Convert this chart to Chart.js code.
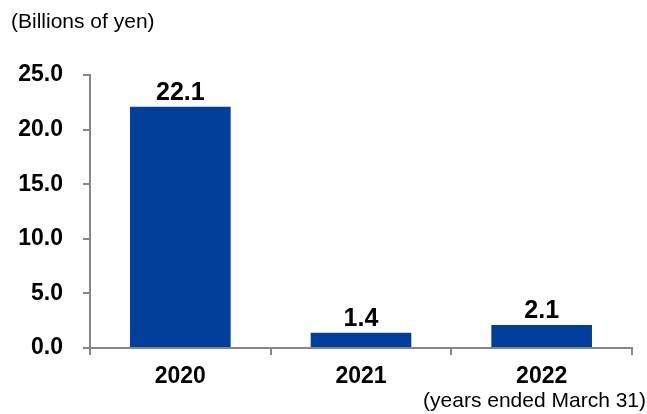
<!DOCTYPE html>
<html>
<head>
<meta charset="utf-8">
<script src="https://cdn.jsdelivr.net/npm/chart.js@4/dist/chart.umd.min.js"></script>
<style>
  html, body { margin: 0; padding: 0; background: #fff; }
  #wrap { width: 647px; height: 414px; position: relative; }
</style>
</head>
<body>
<div id="wrap"><canvas id="bars"></canvas></div>
<script>
// fiscal years and values (billions of yen)
const years = ['2020', '2021', '2022'];
const values = [22.1, 1.4, 2.1];
const yMin = 0;
const yMax = 25;
const yStep = 5;

const unitNote = '(Billions of yen)';
const periodNote = '(years ended March 31)';

const barColor = '#00409A';
const axisColor = '#868686';
const fontFamily = '"Liberation Sans", Arial, sans-serif';

// value above each bar + the two notes
const labelsPlugin = {
  id: 'labels',
  afterDatasetsDraw(chart) {
    const ctx = chart.ctx;
    const meta = chart.getDatasetMeta(0);
    ctx.save();
    ctx.fillStyle = '#000';
    ctx.font = 'bold 25px ' + fontFamily;
    ctx.textAlign = 'center';
    ctx.textBaseline = 'alphabetic';
    meta.data.forEach((bar, i) => {
      ctx.fillText(values[i].toFixed(1), bar.x, bar.y - 7);
    });
    ctx.restore();
  },
  afterDraw(chart) {
    const ctx = chart.ctx;
    ctx.save();
    ctx.fillStyle = '#000';
    ctx.font = '21px ' + fontFamily;
    ctx.textBaseline = 'alphabetic';
    ctx.textAlign = 'left';
    ctx.fillText(unitNote, 11, 28);
    ctx.textAlign = 'right';
    ctx.fillText(periodNote, 646, 407);
    ctx.restore();
  }
};

new Chart(document.getElementById('bars'), {
  type: 'bar',
  data: {
    labels: years,
    datasets: [{
      data: values,
      backgroundColor: barColor,
      borderWidth: 0,
      categoryPercentage: 1,
      barPercentage: 0.557
    }]
  },
  options: {
    responsive: true,
    maintainAspectRatio: false,
    animation: false,
    layout: { padding: { left: 0, top: 75, right: 15, bottom: 0 } },
    plugins: {
      legend: { display: false },
      tooltip: { enabled: false }
    },
    scales: {
      x: {
        grid: {
          offset: true,
          drawOnChartArea: false,
          drawTicks: true,
          tickLength: 7,
          color: axisColor,
          lineWidth: 2
        },
        border: { color: axisColor, width: 2 },
        ticks: {
          color: '#000',
          padding: 8,
          font: { family: fontFamily, size: 23, weight: 'bold' }
        },
        afterFit(scale) { scale.height = 66; }
      },
      y: {
        min: yMin,
        max: yMax,
        grid: {
          drawOnChartArea: false,
          drawTicks: true,
          tickLength: 7,
          color: axisColor,
          lineWidth: 2
        },
        border: { color: axisColor, width: 2 },
        ticks: {
          stepSize: yStep,
          color: '#000',
          padding: 20,
          font: { family: fontFamily, size: 23, weight: 'bold' },
          callback: v => v.toFixed(1)
        },
        afterFit(scale) { scale.width = 90; }
      }
    }
  },
  plugins: [labelsPlugin]
});
</script>
</body>
</html>
